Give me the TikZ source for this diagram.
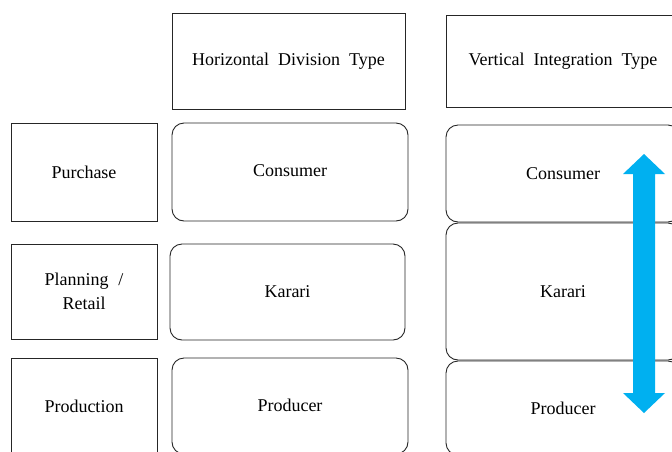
\documentclass[tikz,border=0pt]{standalone}
\usepackage{fontspec}
\setmainfont{Liberation Serif}
\begin{document}
\begin{tikzpicture}[x=1pt,y=-1pt,
  box/.style={draw=black!85,line width=0.9pt,fill=white,inner sep=0pt,align=center,
    font=\fontsize{18}{24}\selectfont},
  rbox/.style={box,rounded corners=12pt}]
\useasboundingbox (0,0) rectangle (672,451);
\clip (0,0) rectangle (672,451);
% headers
\node[box,minimum width=233pt,minimum height=96pt] (hh) at (288.5,61) {Horizontal\hspace{0.25em} Division\hspace{0.25em} Type};
\node[box,minimum width=234pt,minimum height=92pt] (vh) at (563,61) {Vertical\hspace{0.25em} Integration\hspace{0.25em} Type};
% left labels
\node[box,minimum width=146pt,minimum height=98pt] (pur) at (84,172) {Purchase};
\node[box,minimum width=146pt,minimum height=95pt] (plan) at (84,291.5) {Planning\hspace{0.3em} /\\Retail};
\node[box,minimum width=146pt,minimum height=96pt] (prod) at (84,406) {Production};
% horizontal division
\node[rbox,minimum width=236pt,minimum height=98pt] (hc) at (290,172) {\raisebox{2pt}{Consumer}};
\node[rbox,minimum width=235pt,minimum height=96pt] (hk) at (287.5,292) {Karari};
\node[rbox,minimum width=236pt,minimum height=96pt] (hp) at (290,406) {\raisebox{2pt}{Producer}};
% vertical integration
\node[rbox,minimum width=234pt,minimum height=97pt] (vc) at (563,173.5) {Consumer};
\node[rbox,minimum width=234pt,minimum height=137pt] (vk) at (563,291.5) {Karari};
\node[rbox,minimum width=234pt,minimum height=94pt] (vp) at (563,408) {Producer};
% double arrow
\fill[color={rgb,255:red,0;green,176;blue,240}]
  (644,154) -- (665,174) -- (655,174) -- (655,393) -- (665,393) -- (644,413)
  -- (623,393) -- (633,393) -- (633,174) -- (623,174) -- cycle;
\end{tikzpicture}
\end{document}
